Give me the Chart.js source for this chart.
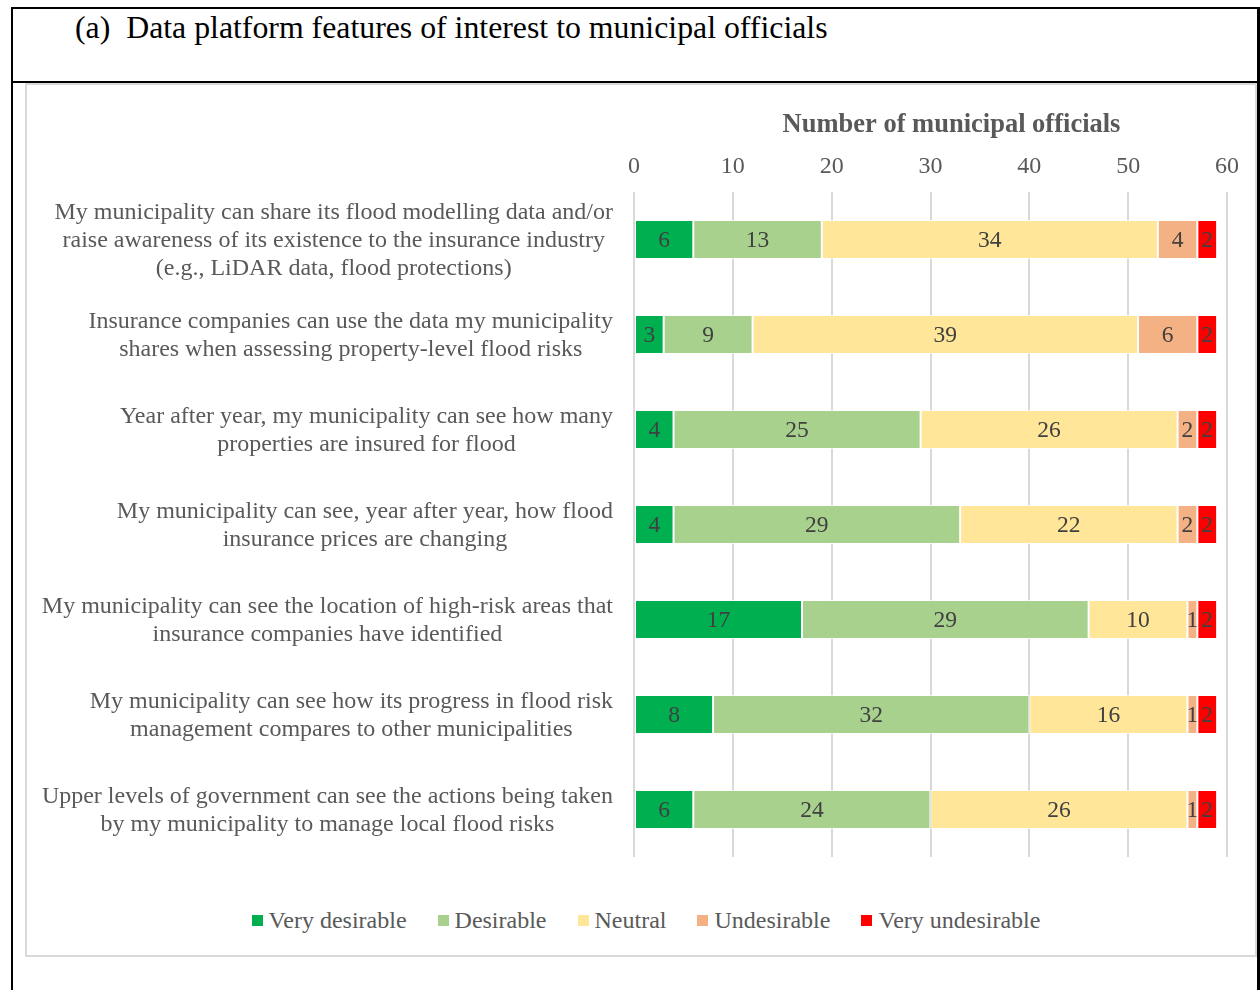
<!DOCTYPE html>
<html>
<head>
<meta charset="utf-8">
<script src="https://cdn.jsdelivr.net/npm/chart.js@4.4.1/dist/chart.umd.min.js"></script>
<style>
  html, body { margin: 0; padding: 0; background: #fff; width: 1260px; height: 990px; overflow: hidden;
               font-family: 'Liberation Serif', 'Times New Roman', serif; }
  #frame { position: absolute; left: 11px; top: 7px; width: 1244px; height: 1100px;
           border: 2px solid #000; border-right-width: 3px; }
  #head { position: absolute; left: 0; top: 0; right: 0; height: 72px; border-bottom: 2px solid #000; }
  #head h1 { margin: 0; position: absolute; left: 62px; top: 1px; font-weight: normal;
             font-size: 31.8px; line-height: 36px; color: #000; white-space: nowrap; }
  #panel { position: absolute; left: 25px; top: 83px; width: 1228px; height: 870px;
           border: 2px solid #d9d9d9; background: #fff; }
  #chart { position: absolute; left: 0; top: 0; }
  #legend { position: absolute; left: 5px; top: 821px; width: 1228px; height: 28px;
            display: flex; justify-content: center; align-items: center; gap: 31px;
            font-size: 24px; line-height: 28px; color: #595959; }
  #legend .item { display: flex; align-items: center; white-space: nowrap; }
  #legend .swatch { width: 11px; height: 11px; margin-right: 6px; }
</style>
</head>
<body>
<div id="frame">
  <div id="head"><h1>(a)&nbsp; Data platform features of interest to municipal officials</h1></div>
</div>
<div id="panel">
  <canvas id="chart" width="1228" height="790"></canvas>
  <div id="legend"></div>
</div>
<script>
// Survey statements, one array of lines per bar
const categories = [
  ["My municipality can share its flood modelling data and/or",
   "raise awareness of its existence to the insurance industry",
   "(e.g., LiDAR data, flood protections)"],
  ["Insurance companies can use the data my municipality",
   "shares when assessing property-level flood risks"],
  ["Year after year, my municipality can see how many",
   "properties are insured for flood"],
  ["My municipality can see, year after year, how flood",
   "insurance prices are changing"],
  ["My municipality can see the location of high-risk areas that",
   "insurance companies have identified"],
  ["My municipality can see how its progress in flood risk",
   "management compares to other municipalities"],
  ["Upper levels of government can see the actions being taken",
   "by my municipality to manage local flood risks"]
];

// Number of municipal officials per response
const veryDesirable   = [6, 3, 4, 4, 17, 8, 6];
const desirable       = [13, 9, 25, 29, 29, 32, 24];
const neutral         = [34, 39, 26, 22, 10, 16, 26];
const undesirable     = [4, 6, 2, 2, 1, 1, 1];
const veryUndesirable = [2, 2, 2, 2, 2, 2, 2];

const seriesNames = ["Very desirable", "Desirable", "Neutral", "Undesirable", "Very undesirable"];
const seriesColors = ["#00B050", "#A9D18E", "#FFE699", "#F4B183", "#FF0000"];
const seriesValues = [veryDesirable, desirable, neutral, undesirable, veryUndesirable];

const xTicks = [0, 10, 20, 30, 40, 50, 60];
const axisTitle = "Number of municipal officials";

const SERIF = "'Liberation Serif', 'Times New Roman', serif";
const TEXT_GREY = "#595959";

// Category labels: each block right-aligned to the plot, its lines centred within the block
const categoryLabels = {
  id: 'categoryLabels',
  afterDraw(chart) {
    const { ctx, chartArea } = chart;
    const yScale = chart.scales.y;
    ctx.save();
    ctx.font = `24px ${SERIF}`;
    ctx.fillStyle = TEXT_GREY;
    ctx.textAlign = 'center';
    ctx.textBaseline = 'middle';
    const right = chartArea.left - 21;
    const lineH = 28;
    categories.forEach((lines, i) => {
      const yc = yScale.getPixelForValue(i) + 1;
      const w = Math.max(...lines.map(l => ctx.measureText(l).width));
      const cx = right - w / 2;
      lines.forEach((l, k) => ctx.fillText(l, cx, yc + (k - (lines.length - 1) / 2) * lineH));
    });
    ctx.restore();
  }
};

// Value printed in the middle of each segment
const segmentValues = {
  id: 'segmentValues',
  afterDatasetsDraw(chart) {
    const { ctx } = chart;
    ctx.save();
    ctx.font = `23.5px ${SERIF}`;
    ctx.fillStyle = '#404040';
    ctx.textAlign = 'center';
    ctx.textBaseline = 'middle';
    chart.data.datasets.forEach((ds, di) => {
      const meta = chart.getDatasetMeta(di);
      meta.data.forEach((el, i) => {
        const v = ds.data[i];
        if (!v) return;
        ctx.fillText(String(v), (el.x + el.base) / 2, el.y + 1);
      });
    });
    ctx.restore();
  }
};

// Bold axis title above the tick labels
const topAxisTitle = {
  id: 'topAxisTitle',
  afterDraw(chart) {
    const { ctx, chartArea } = chart;
    ctx.save();
    ctx.font = `bold 26.5px ${SERIF}`;
    ctx.fillStyle = TEXT_GREY;
    ctx.textAlign = 'center';
    ctx.textBaseline = 'middle';
    ctx.fillText(axisTitle, (chartArea.left + chartArea.right) / 2 + 21, 40);
    ctx.restore();
  }
};

const datasets = seriesNames.map((name, i) => ({
  label: name,
  data: seriesValues[i],
  backgroundColor: seriesColors[i],
  borderColor: 'rgba(255,255,255,0.7)',
  borderWidth: 1,
  borderSkipped: false,
  categoryPercentage: 1.0,
  barPercentage: 0.41
}));

new Chart(document.getElementById('chart'), {
  type: 'bar',
  data: { labels: categories.map(c => c.join(' ')), datasets },
  options: {
    indexAxis: 'y',
    responsive: false,
    animation: false,
    layout: { padding: { left: 0, right: 28, top: 0, bottom: 18 } },
    plugins: {
      legend: { display: false },
      tooltip: { enabled: false },
      title: { display: false }
    },
    scales: {
      x: {
        position: 'top',
        stacked: true,
        min: xTicks[0],
        max: xTicks[xTicks.length - 1],
        afterBuildTicks(scale) { scale.ticks = xTicks.map(v => ({ value: v })); },
        ticks: { font: { family: SERIF, size: 24 }, color: TEXT_GREY, padding: 11 },
        grid: { color: '#d9d9d9', lineWidth: 2, drawTicks: false },
        border: { display: false },
        afterFit(scale) { scale.height = 107; }
      },
      y: {
        stacked: true,
        grid: { display: false },
        border: { display: false },
        ticks: { display: false },
        afterFit(scale) { scale.width = 607; }
      }
    }
  },
  plugins: [categoryLabels, segmentValues, topAxisTitle]
});

// Legend row built from the same series names and colours
const legendEl = document.getElementById('legend');
seriesNames.forEach((name, i) => {
  const item = document.createElement('div');
  item.className = 'item';
  const sw = document.createElement('span');
  sw.className = 'swatch';
  sw.style.background = seriesColors[i];
  const tx = document.createElement('span');
  tx.textContent = name;
  item.appendChild(sw);
  item.appendChild(tx);
  legendEl.appendChild(item);
});
</script>
</body>
</html>
